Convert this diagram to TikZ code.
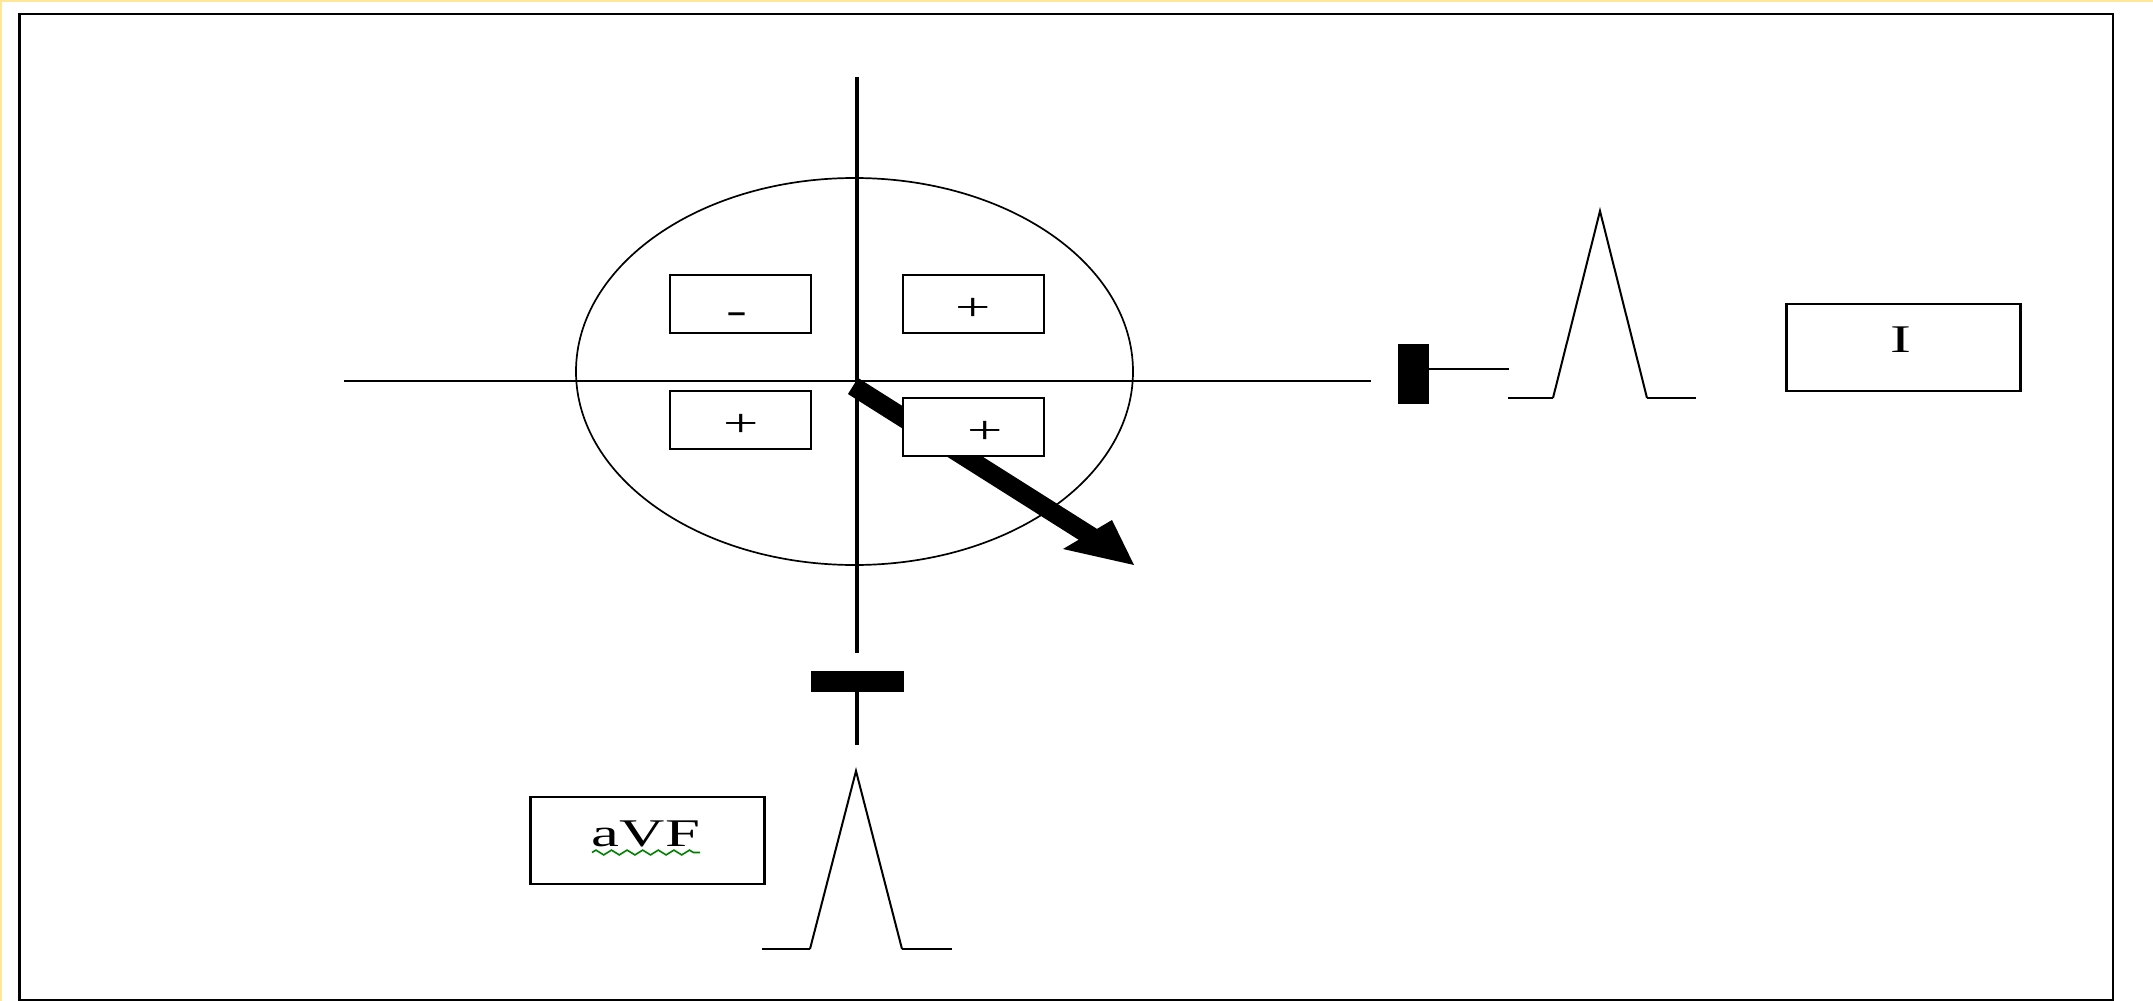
\documentclass[tikz,border=0pt]{standalone}
\usepackage{fontspec}
\setmainfont{Liberation Serif}
\usetikzlibrary{arrows.meta,decorations.pathmorphing}
\definecolor{edgeyellow}{HTML}{FFE699}
\definecolor{spellgreen}{HTML}{008000}
\begin{document}
\begin{tikzpicture}[x=0.5pt,y=-0.5pt,
  signbox/.style={draw,line width=1.25pt,fill=white,inner sep=0pt,outer sep=0pt,minimum width=70.5pt,minimum height=29pt},
  leadbox/.style={draw,line width=1.25pt,fill=white,inner sep=0pt,outer sep=0pt,minimum width=117pt,minimum height=43.5pt},
  glyph/.style={inner sep=0pt,outer sep=0pt,font=\fontsize{19.6}{24}\selectfont},
  electrode/.style={fill=black,inner sep=0pt,outer sep=0pt},
  vaxis/.style={line width=2pt},
  haxis/.style={line width=1.4pt},
  wave/.style={line width=1pt,line join=miter},
  baseline/.style={line width=1.2pt},
  shaft/.style={line width=9.5pt}]
\useasboundingbox (0,0) rectangle (2153,1001);
\fill[white] (0,0) rectangle (2153,1001);
\fill[edgeyellow] (0,0) rectangle (2153,2);
\fill[edgeyellow] (0,0) rectangle (2,1001);
\draw[line width=1.25pt] (19.5,14) rectangle (2113,1000);

% circle of the frontal plane
\draw[line width=0.85pt] (854.5,371.5) ellipse [x radius=139.25pt, y radius=96.75pt];

% axes
\coordinate (vtop) at (857,77);
\coordinate (vbot) at (857,653);
\coordinate (hl) at (344,381);
\coordinate (hr) at (1371,381);
\draw[vaxis] (vtop) -- (vbot);
\draw[haxis] (hl) -- (hr);

% electrical axis vector
\coordinate (orig) at (853,386);
\coordinate (hbase) at (1092,537);
\coordinate (hup) at (1112,520);
\coordinate (hlow) at (1063,549);
\coordinate (tip) at (1134,565);
\draw[shaft] (orig) -- (hbase);
\fill (hup) -- (tip) -- (hlow) -- cycle;

% quadrant boxes
\node[signbox] (bmin) at (740.5,304) {};
\node[signbox] (bpl1) at (973.5,304) {};
\node[signbox] (bpl2) at (740.5,420) {};
\node[signbox] (bpl3) at (973.5,427) {};
\node[glyph] (tmin) at (737,318) {\scalebox{1.6}[1]{-}};
\node[glyph] (tpl1) at (973,309) {\scalebox{1.6}[1]{+}};
\node[glyph] (tpl2) at (741,425) {\scalebox{1.6}[1]{+}};
\node[glyph] (tpl3) at (985,432) {\scalebox{1.6}[1]{+}};

% lead I
\node[electrode,minimum width=15.5pt,minimum height=30pt] (barI) at (1413.5,374) {};
\coordinate (iw) at (1509,369);
\draw[line width=1.1pt] (barI.east |- iw) -- (iw);
\coordinate (qIa) at (1508,398);
\coordinate (qIb) at (1553,398);
\coordinate (qIp) at (1600,211);
\coordinate (qIc) at (1647,398);
\coordinate (qId) at (1696,398);
\draw[baseline] (qIa) -- (qIb);
\draw[wave] (qIb) -- (qIp) -- (qIc);
\draw[baseline] (qIc) -- (qId);
\node[leadbox] (lI) at (1903.5,347.5) {};
\node[glyph] (tI) at (1900.5,340) {\scalebox{1.6}[1]{I}};

% lead aVF
\node[electrode,minimum width=46.5pt,minimum height=10.5pt] (barF) at (857,681.5) {};
\coordinate (fend) at (857,745);
\draw[vaxis] (barF.south) -- (fend);
\coordinate (qFa) at (762,949);
\coordinate (qFb) at (810,949);
\coordinate (qFp) at (856,771);
\coordinate (qFc) at (902,949);
\coordinate (qFd) at (952,949);
\draw[baseline] (qFa) -- (qFb);
\draw[wave] (qFb) -- (qFp) -- (qFc);
\draw[baseline] (qFc) -- (qFd);
\node[leadbox] (laVF) at (647.5,840.5) {};
\node[glyph] (taVF) at (646,833.5) {\scalebox{1.6}[1]{aVF}};
\coordinate (wl) at (592,852.5);
\coordinate (wr) at (700,852.5);
\draw[spellgreen,line width=0.8pt,decorate,decoration={zigzag,segment length=7.8pt,amplitude=1.2pt}] (wl) -- (wr);
\end{tikzpicture}
\end{document}
